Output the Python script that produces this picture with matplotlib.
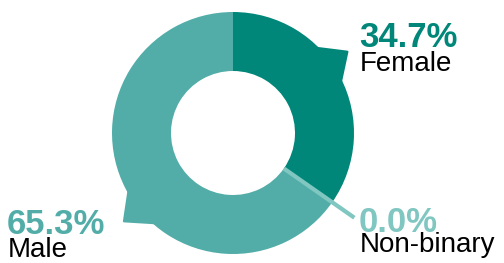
"""Donut chart of gender split with callout labels."""
import numpy as np
import matplotlib
matplotlib.use("Agg")
import matplotlib.pyplot as plt
from matplotlib.patches import Polygon

labels = ["Female", "Non-binary", "Male"]
shares = [34.7, 0.0, 65.3]
colors = ["#00877A", "#80C6C1", "#52ADA8"]

W, H = 504, 263
CX, CY = 233, 130
R, R_IN = 121, 62
FONT = "Liberation Sans"

# where each label sits: (text x, percent baseline, name baseline, callout angle)
layout = {
    "Female": (359, 216, 192, 35.4),
    "Non-binary": (359, 31, 11, None),
    "Male": (7, 29, 6, 219.0),
}

fig = plt.figure(figsize=(W / 100, H / 100), dpi=100)
ax = fig.add_axes([0, 0, 1, 1])
ax.pie(shares, colors=colors, startangle=90, counterclock=False,
       center=(CX, CY), radius=R,
       wedgeprops=dict(width=R - R_IN, linewidth=0))
ax.set_xlim(0, W)
ax.set_ylim(0, H)
ax.set_aspect("equal")
ax.axis("off")

edges = 90 - 3.6 * np.concatenate([[0], np.cumsum(shares)])


def pt(ang, r):
    a = np.radians(ang)
    return CX + r * np.cos(a), CY + r * np.sin(a)


for i, (lab, val, col) in enumerate(zip(labels, shares, colors)):
    tx, y_pct, y_name, tip = layout[lab]
    if val == 0:
        mid = edges[i]
        (x0, y0), (x1, y1) = pt(mid, R_IN), pt(mid, 148)
        ax.plot([x0, x1], [y0, y1], color=col, lw=3, solid_capstyle="butt", zorder=3)
    else:
        poly = [pt(tip - 11.4, R * 0.97), pt(tip, R * 1.16), pt(tip + 11.4, R * 0.97)]
        ax.add_patch(Polygon(poly, closed=True, fc=col, ec=col, lw=1.5,
                             joinstyle="round", zorder=1))
    ax.text(tx, y_pct, f"{val:.1f}%", color=col, fontsize=25, fontweight="bold",
            family=FONT, va="baseline", ha="left")
    ax.text(tx + 1, y_name, lab, color="black", fontsize=20,
            family=FONT, va="baseline", ha="left")

fig.savefig("out.png", dpi=100)
